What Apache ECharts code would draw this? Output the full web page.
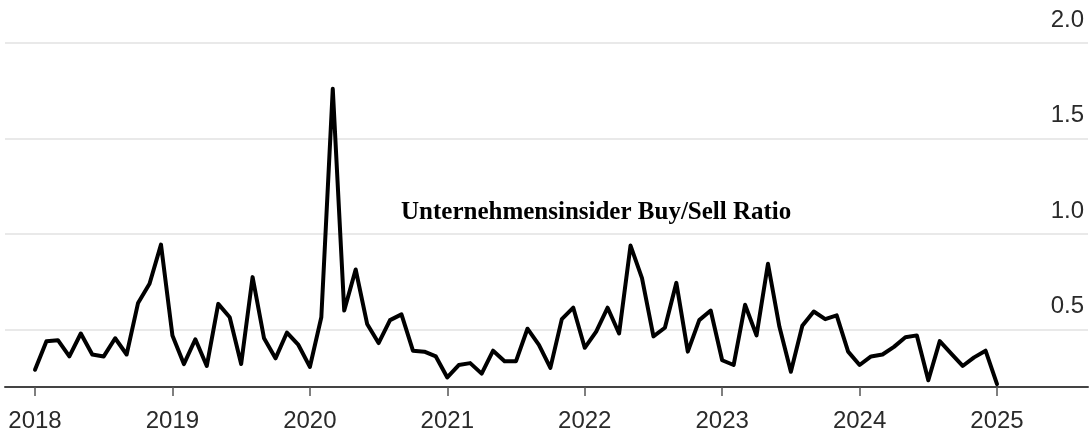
<!DOCTYPE html>
<html>
<head>
<meta charset="utf-8">
<script src="https://cdn.jsdelivr.net/npm/echarts@6/dist/echarts.min.js"></script>
<style>html,body{margin:0;padding:0;background:#fff;}#c{width:1092px;height:439px;}</style>
</head>
<body>
<div id="c"></div>
<script>
// Monthly data, Jan 2018 .. Jan 2025
var startYear = 2018;
var ratios = [
  0.29, 0.44, 0.445, 0.36, 0.48, 0.37, 0.36, 0.455, 0.37, 0.64, 0.74, 0.945,
  0.47, 0.32, 0.45, 0.31, 0.635, 0.565, 0.32, 0.775, 0.455, 0.35, 0.485, 0.42,
  0.305, 0.565, 1.76, 0.60, 0.815, 0.53, 0.43, 0.55, 0.58, 0.39, 0.385, 0.36,
  0.25, 0.315, 0.325, 0.27, 0.39, 0.335, 0.335, 0.505, 0.42, 0.30, 0.555, 0.615,
  0.405, 0.49, 0.615, 0.48, 0.94, 0.77, 0.465, 0.51, 0.745, 0.385, 0.55, 0.60,
  0.34, 0.315, 0.63, 0.47, 0.845, 0.515, 0.28, 0.52, 0.595, 0.555, 0.575, 0.385,
  0.315, 0.36, 0.37, 0.41, 0.46, 0.47, 0.235, 0.44, 0.375, 0.31, 0.355, 0.39,
  0.215
];
var yearTicks = [2018, 2019, 2020, 2021, 2022, 2023, 2024, 2025];
var yTicks = [0.5, 1.0, 1.5, 2.0];
var titleText = 'Unternehmensinsider Buy/Sell Ratio';

var seriesData = ratios.map(function (v, i) { return [startYear + i / 12, v]; });

var chart = echarts.init(document.getElementById('c'), null, {renderer: 'canvas'});
chart.setOption({
  animation: false,
  backgroundColor: '#ffffff',
  title: {
    text: titleText,
    left: 396,
    top: 195,
    textStyle: {fontFamily: 'Liberation Serif', fontWeight: 'bold', fontSize: 25, color: '#000'}
  },
  grid: {left: 5, right: 4, top: 43, bottom: 52, containLabel: false},
  xAxis: {
    type: 'value',
    min: 2017.7817,
    max: 2025.662,
    axisLine: {show: true, lineStyle: {color: '#444', width: 2}},
    axisTick: {show: true, customValues: yearTicks, length: 9, lineStyle: {color: '#555', width: 1.5}},
    axisLabel: {
      customValues: yearTicks,
      margin: 22,
      color: '#2a2a2a',
      fontFamily: 'Liberation Sans',
      fontSize: 24,
      formatter: function (v) { return String(Math.round(v)); }
    },
    splitLine: {show: false}
  },
  yAxis: {
    type: 'value',
    position: 'right',
    min: 0.2,
    max: 2.0,
    axisLine: {show: false},
    axisTick: {show: false, customValues: yTicks},
    axisLabel: {
      customValues: yTicks,
      inside: true,
      margin: 4,
      verticalAlign: 'bottom',
      padding: [0, 0, 11, 0],
      color: '#2a2a2a',
      fontFamily: 'Liberation Sans',
      fontSize: 24,
      formatter: function (v) { return v.toFixed(1); }
    },
    splitLine: {show: true, lineStyle: {color: '#e2e2e2', width: 1.5}}
  },
  series: [{
    type: 'line',
    data: seriesData,
    showSymbol: false,
    symbol: 'none',
    lineStyle: {color: '#000', width: 4, join: 'round', cap: 'round'},
    z: 5
  }]
});
</script>
</body>
</html>
